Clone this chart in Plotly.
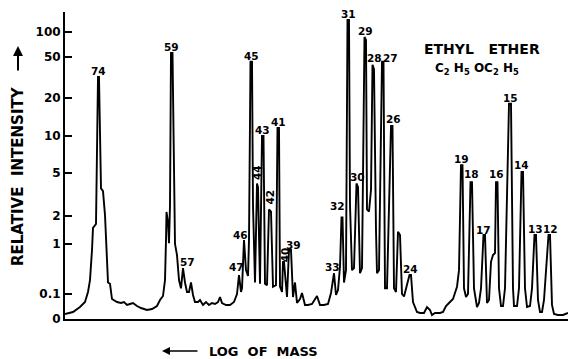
import numpy as np
import plotly.graph_objects as go

# ---- axis calibration of the (non-linear) relative-intensity scale ----
scale_values = [0, 0.1, 1, 2, 5, 10, 20, 50, 100]
scale_labels = ["0", "0.1", "1", "2", "5", "10", "20", "50", "100"]
scale_heights = [0, 25, 75, 103, 146, 183, 221, 262, 287]

# ---- recorder trace: scan position (log-of-mass axis, decreasing mass to the right) ----
trace_pos = [65, 73, 80, 85, 88, 90, 92, 93, 96, 97, 98, 99, 100, 101, 103, 105, 107, 108, 110, 112,
             117, 121, 124, 127, 130, 133, 137, 141, 147, 152, 157, 160, 163, 165, 166, 166.5, 168, 169, 170, 171,
             172.5, 174, 175, 177, 179, 181, 183, 185, 187, 189, 191, 193, 195, 198, 200, 203, 206, 209, 212, 215,
             218, 220, 222, 226, 230, 234, 237, 239, 241, 242, 244, 246, 248, 249, 250.5, 252, 253, 255, 257, 258,
             260, 262, 263.5, 265, 267, 269, 271, 273, 276, 277.5, 279, 280, 282, 283, 284, 287, 289, 291, 293, 295,
             297, 300, 302, 305, 308, 312, 317, 320, 324, 328, 331, 334, 336, 338, 340, 341.5, 342.5, 344, 346, 347.5,
             349, 350, 352, 354, 356.5, 358, 360, 362, 364.5, 366, 367, 369, 371, 372.5, 374, 376, 377, 379, 382, 383.5,
             385, 387, 391, 392.5, 394, 396, 398, 400, 402, 404, 409.5, 411, 413, 417, 420, 424, 427, 430, 432, 435,
             440, 443, 446, 449, 453, 457, 459, 461, 462.5, 464, 466, 468, 470.5, 472, 474, 477, 479, 481, 483.5, 485,
             487, 489, 491, 493, 495, 496, 497.5, 499, 501, 503, 505, 509, 511, 513, 514, 517, 519, 521.5, 523, 525,
             527, 530, 532, 534.5, 536, 538, 540, 542, 544, 548.5, 550, 552, 554, 558, 563, 568]
trace_int = [0.02, 0.028, 0.048, 0.068, 0.11, 0.19, 0.76, 1.49, 1.64, 6.4, 32, 32, 7.7, 3.6, 3.4, 2.04, 0.48, 0.17, 0.16, 0.08,
             0.068, 0.064, 0.068, 0.056, 0.06, 0.064, 0.052, 0.044, 0.036, 0.04, 0.052, 0.076, 0.092, 0.19, 1.1, 2.18, 1.72, 1.02, 2.5, 56,
             56, 2.5, 1.0, 0.6, 0.19, 0.13, 0.33, 0.17, 0.11, 0.11, 0.17, 0.096, 0.068, 0.068, 0.076, 0.056, 0.068, 0.056, 0.064, 0.06,
             0.068, 0.088, 0.064, 0.056, 0.056, 0.068, 0.1, 0.24, 0.11, 0.13, 1.1, 0.3, 0.23, 1.1, 45, 45, 2.5, 0.17, 4, 3.7,
             0.16, 10, 10, 0.16, 0.15, 2.3, 2.2, 0.14, 0.15, 11.6, 11.6, 0.14, 0.11, 0.44, 0.44, 0.088, 0.76, 0.76, 0.088, 0.17,
             0.064, 0.08, 0.105, 0.056, 0.056, 0.06, 0.092, 0.056, 0.056, 0.06, 0.105, 0.26, 0.096, 0.12, 0.35, 1.93, 1.93, 0.17, 0.3, 140,
             140, 2.5, 0.3, 0.33, 4, 3.7, 0.26, 0.33, 87, 80, 2.3, 2.2, 3.5, 42, 38, 1.4, 0.26, 0.3, 45, 45,
             0.13, 0.13, 12, 12, 0.13, 0.11, 1.35, 1.25, 0.1, 0.09, 0.24, 0.24, 0.068, 0.028, 0.024, 0.024, 0.048, 0.036, 0.016, 0.024,
             0.024, 0.028, 0.052, 0.064, 0.08, 0.14, 0.3, 5.8, 5.8, 0.13, 0.088, 0.1, 4.1, 4.1, 0.13, 0.048, 0.064, 0.13, 1.25, 1.25,
             0.064, 0.076, 0.44, 0.6, 0.66, 4.1, 4.1, 0.13, 0.052, 0.052, 0.13, 18, 18, 0.13, 0.052, 0.052, 0.13, 5.1, 5.1, 0.13,
             0.048, 0.052, 0.13, 1.25, 1.25, 0.076, 0.028, 0.028, 0.076, 1.25, 1.25, 0.056, 0.02, 0.016, 0.016, 0.024]

# ---- labelled peaks ----
peak_mass = [74, 59, 57, 47, 46, 45, 44, 43, 42, 41, 40, 39, 33, 32, 31, 30, 29, 28, 27, 26, 24,
             19, 18, 17, 16, 15, 14, 13, 12]
peak_pos = [98.5, 171.8, 183, 239, 244, 251.2, 257.5, 262.8, 270, 278.2, 283.5, 290, 334, 342, 348.2,
            357.2, 365.2, 373.2, 382.8, 391.8, 410.2, 461.8, 471.2, 484.2, 496.8, 510, 522.2, 535.2, 549.2]
peak_int = [32, 56, 0.33, 0.24, 1.1, 45, 4, 10, 2.3, 11.6, 0.44, 0.76, 0.26, 1.93, 140,
            4, 87, 42, 45, 12, 0.24, 5.8, 4.1, 1.25, 4.1, 18, 5.1, 1.25, 1.25]

# label placement tweaks (dx, dy in px, rotated)
label_style = {57: (4, 6, False), 47: (-3, 8, False), 46: (-4, 5, False), 44: (0, 11, True),
               42: (0, 12, True), 40: (1, 7, True), 39: (3, 5, False), 33: (-2, 6, False),
               32: (-5, 11, False), 28: (1, 7, False), 27: (8, 4, False), 26: (2, 7, False),
               18: (0, 8, False), 16: (0, 8, False), 17: (-1, 5, False), 14: (-1, 7, False),
               12: (1, 6, False)}

V = np.array(scale_values, float)
H = np.array(scale_heights, float)
LV = np.log10(V[1:])


def to_h(v):
    v = np.asarray(v, float)
    lv = np.log10(np.clip(v, 0.1, None))
    h = np.interp(lv, LV, H[1:])
    slope = (H[-1] - H[-2]) / (LV[-1] - LV[-2])
    h = np.where(v > V[-1], H[-1] + (lv - LV[-1]) * slope, h)
    h = np.where(v <= 0.1, v / 0.1 * H[1], h)
    return h


FONT = "DejaVu Sans"
W, HT = 569, 359
ML, MR, MT, MB = 65, 1, 12, 40
PW, PH = W - ML - MR, HT - MT - MB


def px(xpix):
    return (xpix - ML) / PW


def py(ypix):
    return (HT - MB - ypix) / PH


fig = go.Figure()
fig.add_trace(go.Scatter(x=trace_pos, y=to_h(trace_int), mode="lines",
                         line=dict(color="black", width=1.9), hoverinfo="skip",
                         showlegend=False))

ann = []
for m, xp, yi in zip(peak_mass, peak_pos, peak_int):
    dx, dy, rot = label_style.get(m, (0, 6, False))
    ann.append(dict(x=xp, y=float(to_h(yi)), text=str(m), showarrow=False,
                    xshift=dx, yshift=dy, xanchor="center", yanchor="middle",
                    textangle=-90 if rot else 0,
                    font=dict(family=FONT, size=10.5, color="black", weight="bold")))

# axis titles and compound name (paper coordinates)
center = dict(xanchor="center", yanchor="middle", showarrow=False)
ann.append(dict(xref="paper", yref="paper", x=px(18), y=py(176), text="RELATIVE  INTENSITY",
                textangle=-90, font=dict(family=FONT, size=15, color="black", weight="bold"), **center))
ann.append(dict(xref="paper", yref="paper", x=px(18), y=py(46), ax=0, ay=26,
                text="", showarrow=True, arrowhead=2, arrowsize=1, arrowwidth=2, arrowcolor="black"))
ann.append(dict(xref="paper", yref="paper", x=px(263), y=py(351), text="LOG  OF  MASS",
                font=dict(family=FONT, size=13, color="black", weight="bold"), **center))
ann.append(dict(xref="paper", yref="paper", x=px(162), y=py(351), ax=37, ay=0,
                text="", showarrow=True, arrowhead=2, arrowsize=1, arrowwidth=1.6, arrowcolor="black"))
ann.append(dict(xref="paper", yref="paper", x=px(482), y=py(49), text="ETHYL   ETHER",
                font=dict(family=FONT, size=14, color="black", weight="bold"), **center))
ann.append(dict(xref="paper", yref="paper", x=px(477), y=py(69),
                text="C<sub>2</sub> H<sub>5</sub> OC<sub>2</sub> H<sub>5</sub>",
                font=dict(family=FONT, size=12, color="black", weight="bold"), **center))

fig.update_layout(
    width=W, height=HT,
    margin=dict(l=ML, r=MR, t=MT, b=MB),
    paper_bgcolor="white", plot_bgcolor="white",
    annotations=ann,
    xaxis=dict(range=[65, 568], showline=True, linewidth=2, linecolor="black",
               showticklabels=False, ticks="", showgrid=False, zeroline=False),
    yaxis=dict(range=[0, 307], tickvals=list(to_h(scale_values)), ticktext=scale_labels,
               ticks="inside", ticklen=7, tickwidth=2, tickcolor="black",
               showline=True, linewidth=2, linecolor="black", showgrid=False, zeroline=False,
               tickfont=dict(family=FONT, size=12, color="black", weight="bold")),
)

fig.write_html("out.html", config={"displayModeBar": False},
               post_script="document.body.style.margin='0';")
